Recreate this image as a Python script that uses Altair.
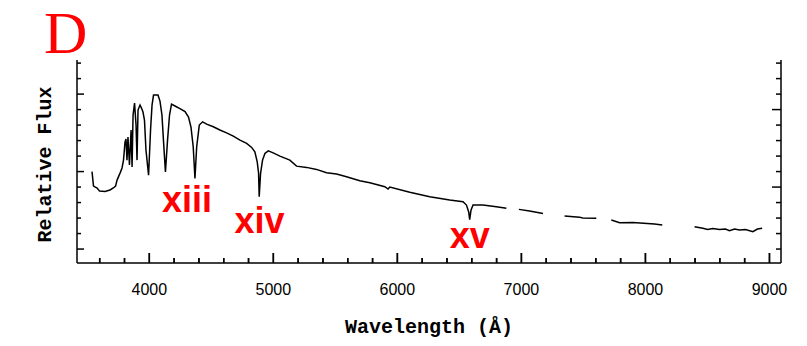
import altair as alt
import pandas as pd

# Spectrum (wavelength in Angstrom, relative flux in arbitrary units), split into segments
wavelength = [3538, 3550, 3579, 3599, 3643, 3683, 3710, 3728, 3740, 3764, 3780, 3792, 3804,
              3812, 3820, 3828, 3840, 3853, 3861, 3869, 3881, 3893, 3901, 3909, 3925, 3937,
              3949, 3961, 3973, 3994, 4010, 4022, 4034, 4070, 4086, 4102, 4114, 4130, 4147,
              4163, 4179, 4207, 4247, 4288, 4316, 4336, 4354, 4368, 4382, 4403, 4430, 4462,
              4516, 4569, 4623, 4677, 4731, 4785, 4825, 4851, 4870, 4881, 4886, 4897, 4913,
              4932, 4959, 4999, 5053, 5133, 5187, 5268, 5348, 5429, 5510, 5590, 5697, 5778,
              5899, 5925, 5939, 6100, 6261, 6422, 6529, 6557, 6575, 6583, 6594, 6610, 6690,
              6798, 6879,
              6980, 7066, 7174,
              7348, 7469, 7493, 7604,
              7725, 7792, 7899, 8073, 8136,
              8396, 8463, 8501, 8543, 8597, 8645, 8678, 8718, 8758, 8807, 8866, 8903, 8941]
flux = [5.00, 4.06, 3.94, 3.74, 3.71, 3.81, 3.94, 4.06, 4.45, 4.90, 5.23, 5.74, 6.90,
        7.10, 5.74, 7.23, 5.42, 7.68, 5.29, 8.65, 9.42, 8.00, 5.74, 8.97, 9.29, 9.10,
        8.84, 8.32, 6.39, 4.77, 7.68, 9.29, 9.94, 9.94, 9.55, 8.65, 7.03, 4.97, 7.03,
        8.65, 9.35, 9.23, 9.06, 8.87, 8.52, 7.87, 6.60, 4.55, 6.60, 8.00, 8.21, 8.06,
        7.89, 7.68, 7.50, 7.29, 7.03, 6.82, 6.56, 6.28, 5.63, 4.90, 3.37, 4.88, 5.74,
        6.17, 6.34, 6.21, 6.00, 5.74, 5.35, 5.27, 5.14, 4.92, 4.84, 4.66, 4.41, 4.28,
        4.02, 3.87, 4.00, 3.66, 3.37, 3.16, 3.05, 2.84, 2.39, 1.90, 2.52, 2.84, 2.84,
        2.73, 2.63,
        2.56, 2.45, 2.30,
        2.13, 2.06, 2.00, 1.98,
        1.87, 1.70, 1.72, 1.61, 1.55,
        1.44, 1.34, 1.26, 1.32, 1.26, 1.29, 1.19, 1.29, 1.23, 1.26, 1.12, 1.29, 1.34]
segment = [0] * 93 + [1] * 3 + [2] * 4 + [3] * 5 + [4] * 13

label_text = ["xiii", "xiv", "xv"]
label_wl = [4304, 4888, 6583]
label_flux = [2.39, 1.01, 0.05]

panel_letter = ["D"]
x_title = ["Wavelength (Å)"]
y_title = ["Relative Flux"]

x_major = [4000, 5000, 6000, 7000, 8000, 9000]
x_minor = [3600, 3800, 4200, 4400, 4600, 4800, 5200, 5400, 5600, 5800, 6200, 6400, 6600,
           6800, 7200, 7400, 7600, 7800, 8200, 8400, 8600, 8800]
y_left_minor = [1, 2, 3, 4, 6, 7, 8, 9, 11, 12]
y_left_major = [0, 5, 10]
y_right_minor = [0, 1, 2, 3, 5, 6, 7, 8, 10, 11, 12]
y_right_major = [4, 9]

W, H = 704, 203
X0, X1 = 3417, 9093
Y0, Y1 = -0.9, 12.2
XPX = (X1 - X0) / W   # data units per pixel
YPX = (Y1 - Y0) / H

spec = pd.DataFrame({"wl": wavelength, "flux": flux, "seg": segment})
labels = pd.DataFrame({"wl": label_wl, "flux": label_flux, "text": label_text})

xs = alt.Scale(domain=[X0, X1], nice=False, zero=False)
ys = alt.Scale(domain=[Y0, Y1], nice=False, zero=False)


def xticks_rule(vals, length):
    return alt.Chart(pd.DataFrame({"tx": vals})).mark_rule(color="black", strokeWidth=1.5).encode(
        x=alt.X("tx:Q", scale=xs, axis=None),
        y=alt.Y(datum=Y0, scale=ys, axis=None),
        y2=alt.Y2(datum=Y0 + length * YPX))


def xticks_rect(vals, length):
    return alt.Chart(pd.DataFrame({"tk": vals})).transform_calculate(
        lo=f"datum.tk - {0.75 * XPX}", hi=f"datum.tk + {0.75 * XPX}"
    ).mark_rect(color="black").encode(
        x=alt.X("lo:Q", scale=xs, axis=None), x2="hi:Q",
        y=alt.value(H), y2=alt.value(H - length))


def yticks(vals, side, length):
    if side == "left":
        a, b = X0, X0 + length * XPX
    else:
        a, b = X1, X1 - length * XPX
    return alt.Chart(pd.DataFrame({"ty": vals})).mark_rule(color="black", strokeWidth=1.5).encode(
        y=alt.Y("ty:Q", scale=ys, axis=None),
        x=alt.X(datum=a, scale=xs, axis=None),
        x2=alt.X2(datum=b))


line = alt.Chart(spec).mark_line(color="black", strokeWidth=1.5).encode(
    x=alt.X("wl:Q", scale=xs, axis=None),
    y=alt.Y("flux:Q", scale=ys, axis=None),
    detail="seg:N",
)

one = pd.DataFrame({"a": [0]})
frame_left = alt.Chart(one).mark_rule(color="black", strokeWidth=1.5).encode(
    x=alt.value(0), y=alt.value(0), y2=alt.value(H))
frame_right = alt.Chart(one).mark_rule(color="black", strokeWidth=1.5).encode(
    x=alt.value(W), y=alt.value(0), y2=alt.value(H))
frame_bottom = alt.Chart(one).mark_rule(color="black", strokeWidth=1.5).encode(
    x=alt.value(0), x2=alt.value(W), y=alt.value(H))

xlabels = alt.Chart(pd.DataFrame({"lab": x_major})).mark_text(
    font="Liberation Sans", fontSize=16, color="black", align="center", baseline="top").encode(
    x=alt.X("lab:Q", scale=xs, axis=None), y=alt.value(H + 19),
    text=alt.Text("lab:Q", format="d"))

xtitle = alt.Chart(pd.DataFrame({"t": x_title})).mark_text(
    font="Liberation Mono", fontSize=20, fontWeight="bold", color="black",
    align="center", baseline="middle").encode(
    x=alt.value(W / 2), y=alt.value(H + 64), text="t:N")

ytitle = alt.Chart(pd.DataFrame({"t": y_title})).mark_text(
    font="Liberation Mono", fontSize=20, fontWeight="bold", color="black",
    align="center", baseline="middle", angle=270).encode(
    x=alt.value(-32), y=alt.value(H / 2 + 3), text="t:N")

text = alt.Chart(labels).mark_text(
    color="#ff0000", font="Liberation Sans", fontWeight="bold", fontSize=36,
    align="center", baseline="alphabetic").encode(
    x=alt.X("wl:Q", scale=xs, axis=None), y=alt.Y("flux:Q", scale=ys, axis=None),
    text="text:N")

letter = alt.Chart(pd.DataFrame({"t": panel_letter})).mark_text(
    color="#ff0000", font="Liberation Serif", fontSize=60, align="left",
    baseline="alphabetic").encode(x=alt.value(-33), y=alt.value(-7), text="t:N")

chart = alt.layer(
    line, frame_left, frame_right, frame_bottom,
    xticks_rule(x_minor, 5), xticks_rule(x_major, 10),
    xticks_rect(x_minor, 5), xticks_rect(x_major, 10),
    yticks(y_left_minor, "left", 4), yticks(y_left_major, "left", 7),
    yticks(y_right_minor, "right", 5), yticks(y_right_major, "right", 9),
    xlabels, xtitle, ytitle, text, letter,
).properties(
    width=W, height=H,
    padding={"left": 69, "top": 52, "right": 18, "bottom": 76},
    autosize=alt.AutoSizeParams(type="none"),
    background="white",
).configure_view(stroke=None)

chart.save("out.html", embed_options={"renderer": "svg", "actions": False})
